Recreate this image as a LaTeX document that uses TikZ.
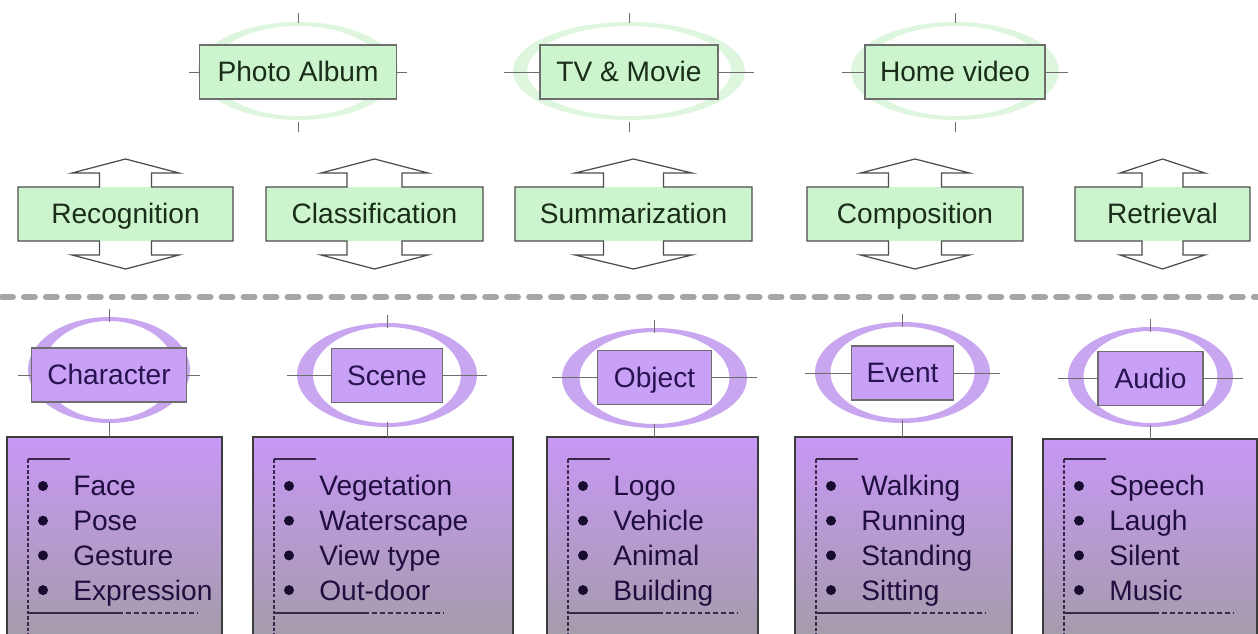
\documentclass[tikz,border=0pt]{standalone}
\usepackage{fontspec}
\setmainfont{Liberation Sans}
\usetikzlibrary{calc}
\newlength{\pxu}\setlength{\pxu}{0.02cm}
\definecolor{lgreen}{RGB}{205,245,205}
\definecolor{ringgreen}{RGB}{222,246,222}
\definecolor{gtext}{RGB}{25,45,25}
\definecolor{lpurple}{RGB}{200,160,245}
\definecolor{ringpurple}{RGB}{201,166,240}
\definecolor{ptext}{RGB}{40,18,80}
\definecolor{boxtop}{RGB}{200,152,246}
\definecolor{boxbot}{RGB}{164,156,170}
\definecolor{edge}{RGB}{110,110,110}
\definecolor{boxedge}{RGB}{60,60,60}
\definecolor{brkcol}{RGB}{55,40,75}
% box with an up and a down arrow: node, stem half width, head half width
\newcommand{\updown}[3]{%
  \draw[arrline] (#1.north west) -- ($(#1.north)+(-#2,0)$) -- ($(#1.north)+(-#2,-14)$)
    -- ($(#1.north)+(-#3,-14)$) -- ($(#1.north)+(0,-28)$) -- ($(#1.north)+(#3,-14)$)
    -- ($(#1.north)+(#2,-14)$) -- ($(#1.north)+(#2,0)$) -- (#1.north east)
    -- (#1.south east) -- ($(#1.south)+(#2,0)$) -- ($(#1.south)+(#2,14)$)
    -- ($(#1.south)+(#3,14)$) -- ($(#1.south)+(0,28)$) -- ($(#1.south)+(-#3,14)$)
    -- ($(#1.south)+(-#2,14)$) -- ($(#1.south)+(-#2,0)$) -- (#1.south west) -- cycle;}
\begin{document}
\begin{tikzpicture}[x=0.02cm,y=-0.02cm,
    lbl/.style={font=\fontsize{16}{19}\selectfont,inner sep=0pt,outer sep=0pt,minimum height=54\pxu,
      text height=14.5pt,text depth=3.2pt},
    gbox/.style={lbl,fill=lgreen,draw=edge,line width=0.6pt,text=gtext},
    abox/.style={lbl,fill=lgreen,text=gtext},
    pbox/.style={lbl,fill=lpurple,draw=edge,line width=0.6pt,text=ptext},
    arrline/.style={draw=black!70,line width=0.7pt},
    tick/.style={draw=edge,line width=0.5pt},
    listbox/.style={minimum height=200\pxu,inner sep=0pt,outer sep=0pt,top color=boxtop,bottom color=boxbot,draw=boxedge,line width=0.8pt},
    item/.style={font=\fontsize{16}{19}\selectfont,inner sep=0pt,text=ptext!80!black},
    brk/.style={draw=brkcol,line width=0.6pt}]
  \useasboundingbox (0,0) rectangle (1258,634);
  \clip (0,0) rectangle (1258,634);

  % applications
  \foreach \n/\x/\w/\rx/\t in {pa/298/197/100/Photo Album,tv/629/178/116/TV \& Movie,hv/955/180/104/Home video}{
    \fill[ringgreen,even odd rule] (\x,71) ellipse ({\rx} and 49) (\x,71) ellipse ({\rx-14} and 45);
    \node[gbox,minimum width=\w\pxu] (\n) at (\x,72) {\t};
    \draw[tick] (\x,13) -- (\x,23);
    \draw[tick] (\x,122) -- (\x,132);
    \draw[tick] ({\x-\rx-9},72) -- (\n.west);
    \draw[tick] (\n.east) -- ({\x+\rx+9},72);
  }

  % tasks
  \foreach \n/\x/\w/\s/\h/\t in {rec/125.5/215/26/53.5/Recognition,cls/374.5/217/27.5/53.5/Classification,
      sum/633.5/237/30/58.5/Summarization,com/915/216/26.5/54.5/Composition,ret/1162.5/175/20.5/42.5/Retrieval}{
    \node[abox,minimum width=\w\pxu] (\n) at (\x,214) {\t};
    \updown{\n}{\s}{\h}
  }

  \draw[draw=black!35,line width=3.4pt,line cap=round,dash pattern=on 6.2pt off 6.3pt] (2,297) -- (1258,297);

  % concepts
  \foreach \n/\x/\y/\rx/\ry/\irx/\iry/\bw/\by/\t in {chr/109/370/81/53/66/49/155/375/Character,
      scn/387/375/90/52/74/48/111/375.5/Scene,obj/654.5/378/92.5/50/75/46/114/377.5/Object,
      evt/902.5/372.5/87.5/50.5/72/46/102/373/Event,aud/1150.5/377/82.5/50/67/46/105/378.5/Audio}{
    \fill[ringpurple,even odd rule] (\x,\y) ellipse ({\rx} and {\ry}) (\x,\y) ellipse ({\irx} and {\iry});
    \node[pbox,minimum width=\bw\pxu] (\n) at (\x,\by) {\t};
    \draw[tick] (\x,{\y-\ry-8}) -- (\x,{\y-\ry+5});
    \draw[tick] ({\x-\rx-10},\by) -- (\n.west);
    \draw[tick] (\n.east) -- ({\x+\rx+10},\by);
  }

  % feature lists
  \foreach \n/\bx/\by/\bw/\items in {chr/7/437/215/{Face,Pose,Gesture,Expression},
      scn/253/437/260/{Vegetation,Waterscape,View type,Out-door},
      obj/547/437/211/{Logo,Vehicle,Animal,Building},
      evt/795/437/217/{Walking,Running,Standing,Sitting},
      aud/1043/439/214/{Speech,Laugh,Silent,Music}}{
    \node[listbox,minimum width=\bw\pxu,anchor=north west] (\n-box) at (\bx,\by) {};
    \draw[tick] ($(\n.south)+(0,20)$) -- (\n |- \n-box.north);
    \draw[brk] ({\bx+21},459) -- ({\bx+63},459);
    \draw[brk,dash pattern=on 2pt off 1.2pt] ({\bx+21},459) -- ({\bx+21},640);
    \draw[brk,line width=1.1pt] ({\bx+21},613) -- ({\bx+111},613);
    \draw[brk,dash pattern=on 2.8pt off 1.7pt] ({\bx+111},613) -- ({\bx+191},613);
    \foreach \itm [count=\k] in \items {
      \node[item,anchor=base west] (\n-\k) at ({\bx+66},{496+34.7*(\k-1)}) {\itm};
      \fill[ptext!60!black] ($(\n-\k.base west)+(-30,-10)$) circle (5);
    }
  }
\end{tikzpicture}
\end{document}
